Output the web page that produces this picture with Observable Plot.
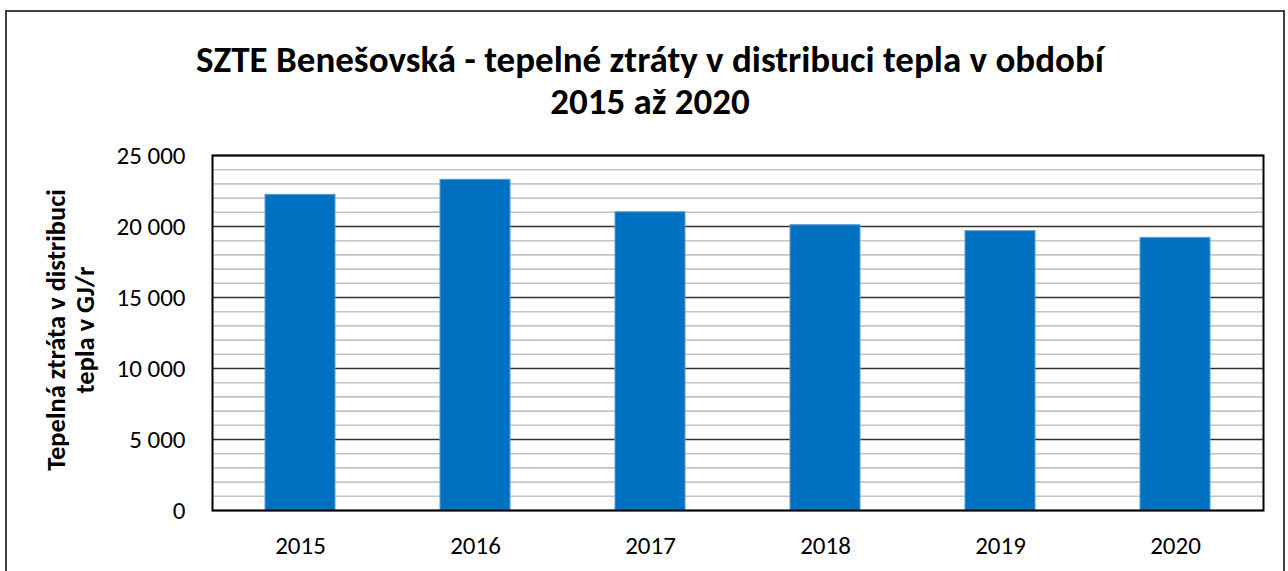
<!DOCTYPE html>
<html>
<head>
<meta charset="utf-8">
<script src="https://cdn.jsdelivr.net/npm/d3@7"></script>
<script src="https://cdn.jsdelivr.net/npm/@observablehq/plot@0.6"></script>
<style>
  html, body { margin: 0; padding: 0; background: #fff; }
  #wrap { position: relative; width: 1288px; height: 571px; overflow: hidden; font-family: Carlito, Lato, sans-serif; }
  #border { position: absolute; left: 5px; top: 10px; width: 1280px; height: 600px; border: 2px solid #404040; box-sizing: border-box; }
  #title { position: absolute; left: 0; width: 1300px; top: 39px; text-align: center; font-weight: bold; font-size: 37px; line-height: 42px; color: #000; }
  #ytitle { position: absolute; left: 71px; top: 330px; width: 400px; transform: translate(-50%, -50%) rotate(-90deg); text-align: center; font-weight: bold; font-size: 26.5px; line-height: 29px; color: #000; white-space: pre; }
  #chart { position: absolute; left: 0; top: 0; }
  #chart svg text { font-size: 25px; }
</style>
</head>
<body>
<div id="wrap">
  <div id="border"></div>
  <div id="chart"></div>
  <div id="title"></div>
  <div id="ytitle"></div>
</div>
<script>
const years = ["2015", "2016", "2017", "2018", "2019", "2020"];
const losses = [22230, 23290, 21000, 20090, 19670, 19200];
const yMajorTicks = [0, 5000, 10000, 15000, 20000, 25000];
const yMinorTicks = [1000,2000,3000,4000,6000,7000,8000,9000,11000,12000,13000,14000,16000,17000,18000,19000,21000,22000,23000,24000];
const titleLines = ["SZTE Benešovská - tepelné ztráty v distribuci tepla v období", "2015 až 2020"];
const yTitle = "Tepelná ztráta v distribuci\ntepla v GJ/r";

const data = years.map((y, i) => ({year: y, value: losses[i]}));
const fmt = d => d3.format(",")(d).replace(/,/g, " ");
const font = "Carlito, Lato, sans-serif";

document.getElementById("title").innerHTML = titleLines.join("<br>");
document.getElementById("ytitle").textContent = yTitle;

const chart = Plot.plot({
  width: 1288,
  height: 571,
  marginLeft: 212,
  marginRight: 25,
  marginTop: 155,
  marginBottom: 61,
  style: {fontFamily: font, fontSize: "25px", color: "#000", background: "transparent", overflow: "visible"},
  x: {domain: years, paddingInner: 0.6, paddingOuter: 0.3, label: null},
  y: {domain: [0, 25000], label: null},
  marks: [
    Plot.ruleY(yMinorTicks, {stroke: "#c4c4c4", strokeWidth: 1.6}),
    Plot.ruleY(yMajorTicks, {stroke: "#333", strokeWidth: 1.5}),
    Plot.barY(data, {x: "year", y: "value", fill: "#0070C0", stroke: "#5B9BD5", strokeWidth: 1}),
    Plot.frame({stroke: "#000", strokeWidth: 2}),
    Plot.axisY({ticks: yMajorTicks, tickFormat: fmt, tickSize: 0, tickPadding: 27, label: null}),
    Plot.axisX({tickSize: 0, tickPadding: 26, label: null})
  ]
});
document.getElementById("chart").appendChild(chart);
</script>
</body>
</html>
